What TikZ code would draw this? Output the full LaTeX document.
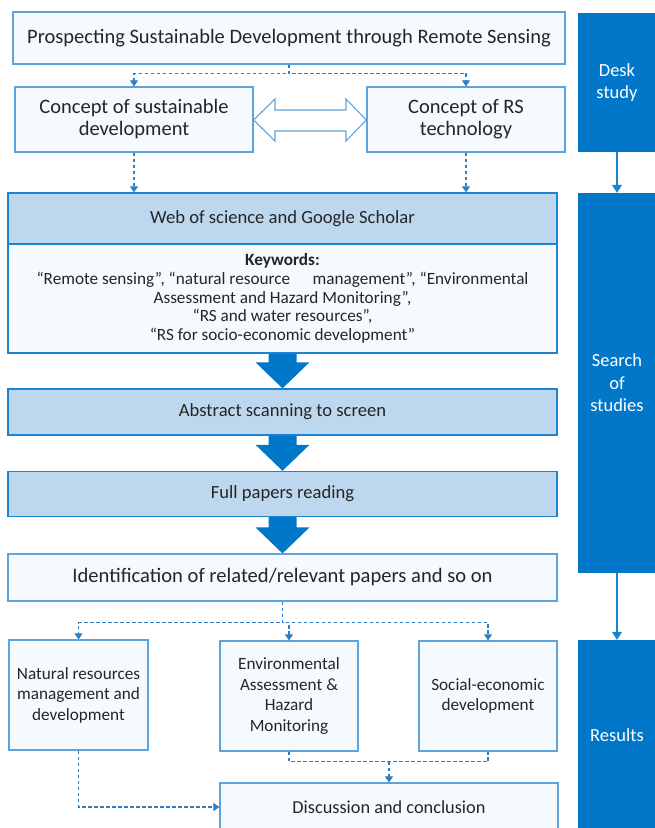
\documentclass[tikz,border=0pt]{standalone}
\usepackage{fontspec}
\setmainfont{Carlito}
\usetikzlibrary{arrows.meta,calc}
\definecolor{dblue}{HTML}{0077C8}
\definecolor{bord}{HTML}{5FA3DC}
\definecolor{bordd}{HTML}{1F84D0}
\definecolor{lfill}{HTML}{BDD7EE}
\definecolor{wfill}{HTML}{F6FAFE}
\definecolor{dash}{HTML}{2E7DC0}
\definecolor{txt}{HTML}{262626}
\tikzset{
  wbox/.style={draw=bord, line width=1.2pt, fill=wfill, text=txt, align=center, inner sep=2pt},
  bbox/.style={draw=bordd, line width=1.4pt, fill=lfill, text=txt, align=center, inner sep=2pt},
  colbox/.style={fill=dblue, text=white, align=center, inner sep=0pt, font=\fontsize{18.5}{22.5}\selectfont},
  dasharrow/.style={draw=dash, line width=1.1pt, dash pattern=on 3.5pt off 2.5pt, -{Triangle[length=6pt,width=8pt]}},
  dashline/.style={draw=dash, line width=1.1pt, dash pattern=on 3.5pt off 2.5pt},
  colarrow/.style={draw=bord, line width=1.2pt, -{Triangle[length=8pt,width=10pt]}, color=dblue!70!bord},
  bigarrow/.style={fill=dblue},
  bottomtxt/.style={font=\fontsize{17.2}{20.5}\selectfont},
}
\begin{document}
\begin{tikzpicture}[x=1pt,y=-1pt]
\useasboundingbox (0,0) rectangle (654,828);
% right column
\node[colbox, minimum width=78pt, minimum height=139pt] (desk) at (617,82.5) {Desk\\study};
\node[colbox, minimum width=78pt, minimum height=380pt] (search) at (617,383) {Search\\of\\studies};
\node[colbox, minimum width=78pt, minimum height=200pt] (results) at (617,740) {};
\node[text=white, font=\fontsize{18.5}{22}\selectfont] (restxt) at (617,735) {Results};
\draw[colarrow] (desk.south) -- (search.north);
\draw[colarrow] (search.south) -- (results.north);

% top
\node[wbox, minimum width=552pt, minimum height=52pt, font=\fontsize{20.5}{22}\selectfont] (top) at (289,38) {Prospecting Sustainable Development through Remote Sensing};
\node[wbox, minimum width=238pt, minimum height=65pt, font=\fontsize{20.5}{22}\selectfont] (csd) at (134,119.5) {Concept of sustainable\\development};
\node[wbox, minimum width=198pt, minimum height=65pt, font=\fontsize{20.5}{22}\selectfont] (crs) at (466,119.5) {Concept of RS\\technology};

\draw[dasharrow] (top.south) -- ++(0,9) -| (csd.north);
\draw[dasharrow] (top.south) -- ++(0,9) -| (crs.north);

% double hollow arrow
\draw[draw=bord, line width=1.1pt, fill=white]
  (csd.east |- 0,120) -- (275,99) -- (275,110) -- (346,110) -- (346,99) -- (crs.west |- 0,120)
  -- (346,141) -- (346,131) -- (275,131) -- (275,141) -- cycle;

% search boxes
\node[bbox, minimum width=549pt, minimum height=51pt, font=\fontsize{18.6}{20}\selectfont] (web) at (282.5,218.5) {Web of science and Google Scholar};
\node[wbox, draw=bordd, line width=1.4pt, minimum width=549pt, minimum height=109pt, font=\fontsize{17.2}{18.7}\selectfont] (kw) at (282.5,298.5)
  {\textbf{Keywords:}\\
   “Remote sensing”, “natural resource\hspace{1.3em}management”, “Environmental\\
   Assessment and Hazard Monitoring”,\\
   “RS and water resources”,\\
   “RS for socio-economic development”};
\draw[dasharrow] (csd.south) -- (csd.south |- web.north);
\draw[dasharrow] (crs.south) -- (crs.south |- web.north);

\node[bbox, minimum width=549pt, minimum height=46pt, font=\fontsize{18.6}{20}\selectfont] (abs) at (282.5,412) {Abstract scanning to screen};
\node[bbox, minimum width=549pt, minimum height=45pt, font=\fontsize{18.6}{20}\selectfont] (full) at (282.5,494) {Full papers reading};
\node[wbox, minimum width=549pt, minimum height=47pt, font=\fontsize{20.6}{22}\selectfont] (ident) at (282.5,577.5) {Identification of related/relevant papers and so on};

% big arrows
\foreach \a/\b in {kw/abs, abs/full, full/ident}{
  \fill[bigarrow] ($(\a.south)+(-14,0)$) -- ($(\a.south)+(14,0)$) -- ($(\b.north)+(14,-26)$) -- ($(\b.north)+(27,-26)$)
     -- (\b.north) -- ($(\b.north)+(-27,-26)$) -- ($(\b.north)+(-14,-26)$) -- cycle;
}

% results boxes
\node[wbox, bottomtxt, minimum width=139pt, minimum height=110pt] (nat) at (78.5,695) {Natural resources\\management and\\development};
\node[wbox, bottomtxt, minimum width=138pt, minimum height=110pt] (env) at (289,696) {Environmental\\Assessment \&\\Hazard\\Monitoring};
\node[wbox, bottomtxt, minimum width=138pt, minimum height=110pt] (soc) at (488,696) {Social-economic\\development};
\node[wbox, minimum width=338pt, minimum height=57pt] (disc) at (389,811.5) {};
\node[text=txt, font=\fontsize{18.3}{20}\selectfont] (disctxt) at (389,807) {Discussion and conclusion};

\draw[dasharrow] (ident.south) -- ++(0,21) -| (nat.north);
\draw[dasharrow] (ident.south) -- ++(0,21) -| (env.north);
\draw[dasharrow] (ident.south) -- ++(0,21) -| (soc.north);

\coordinate (j) at ($(env.south)+(0,10)$);
\draw[dashline] (env.south) -- (j) -| (soc.south);
\draw[dasharrow] (j -| disc.north) -- (disc.north);
\draw[dasharrow] (nat.south) |- (disc.west |- disctxt);
\end{tikzpicture}
\end{document}
